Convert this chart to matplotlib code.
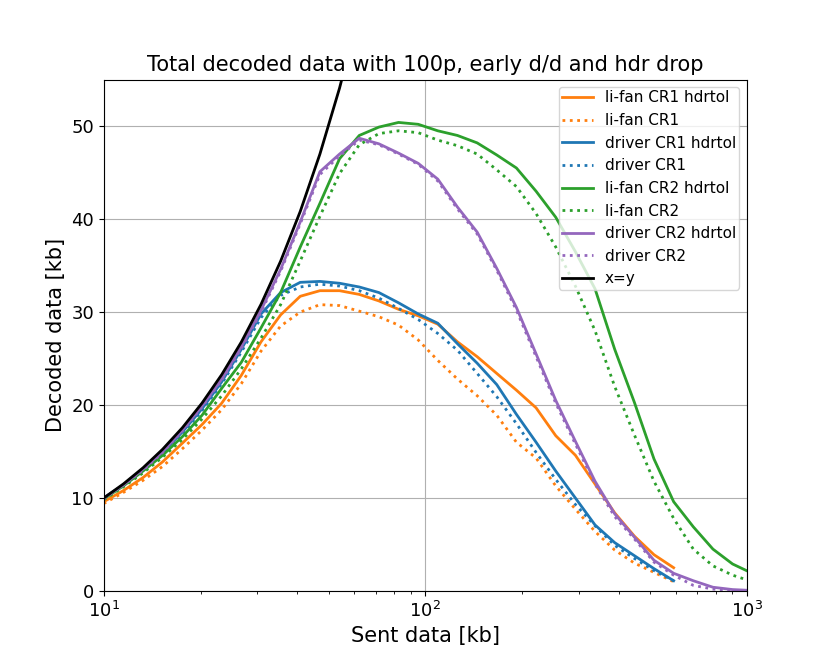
#!/bin/env python3

import matplotlib as mpl
import matplotlib.pyplot as plt

mpl.rcParams['pdf.fonttype'] = 42

figSize = (8.3, 6.64)

# sent data [kb], same sampling for all runs (CR1 runs stop at ~590 kb)
sent = [10.0, 11.51, 13.25, 15.25, 17.56, 20.21, 23.27, 26.78, 30.83, 35.48,
        40.83, 47.0, 54.1, 62.3, 71.7, 82.5, 95.0, 109.3, 125.8, 144.9,
        166.7, 191.9, 220.9, 254.3, 292.7, 336.9, 387.8, 446.4, 513.8, 591.5,
        680.8, 783.7, 902.0, 1038.0]

lifan_cr1_hdrtol = [9.6, 10.8, 12.2, 13.9, 15.9, 17.9, 20.2, 23.2, 26.8, 29.7,
                    31.7, 32.3, 32.3, 31.9, 31.2, 30.3, 29.6, 28.7, 26.8, 25.2,
                    23.4, 21.6, 19.7, 16.7, 14.6, 11.5, 8.4, 5.9, 3.9, 2.5]
lifan_cr1 = [9.4, 10.6, 11.9, 13.4, 15.3, 17.3, 19.5, 22.3, 25.8, 28.5,
             30.0, 30.8, 30.7, 30.1, 29.5, 28.6, 27.0, 24.8, 22.8, 21.0,
             18.9, 16.0, 14.3, 11.3, 8.8, 6.4, 4.4, 3.0, 2.0, 1.0]
driver_cr1_hdrtol = [10.0, 11.4, 13.0, 14.9, 17.1, 19.6, 22.5, 26.0, 29.8, 32.1,
                     33.2, 33.3, 33.1, 32.7, 32.1, 31.0, 29.8, 28.8, 26.6, 24.5,
                     22.2, 19.0, 16.0, 12.9, 10.0, 7.1, 5.2, 3.8, 2.4, 1.1]
driver_cr1 = [9.9, 11.3, 12.9, 14.8, 16.9, 19.4, 22.3, 25.7, 29.4, 31.8,
              32.7, 33.0, 32.8, 32.3, 31.5, 30.4, 29.2, 27.7, 25.9, 23.4,
              20.9, 18.0, 14.9, 12.0, 9.3, 7.0, 4.9, 3.5, 2.2, 1.1]
lifan_cr2_hdrtol = [9.9, 11.3, 12.9, 14.6, 16.6, 18.9, 21.8, 24.6, 28.3, 32.1,
                    37.0, 41.7, 46.5, 49.0, 49.9, 50.4, 50.2, 49.5, 49.0, 48.2,
                    46.9, 45.5, 43.0, 40.2, 36.5, 32.5, 26.0, 20.3, 14.2, 9.6,
                    6.9, 4.5, 2.9, 1.9]
lifan_cr2 = [9.8, 11.2, 12.7, 14.4, 16.3, 18.5, 21.0, 23.9, 27.2, 30.8,
             35.5, 40.3, 44.9, 48.0, 49.2, 49.5, 49.3, 48.5, 47.9, 47.0,
             45.3, 43.5, 40.6, 37.0, 32.8, 28.0, 22.0, 16.8, 11.8, 7.8,
             4.5, 2.7, 1.7, 1.0]
driver_cr2_hdrtol = [10.0, 11.4, 13.1, 15.0, 17.3, 19.9, 22.8, 26.3, 30.2, 34.6,
                     39.7, 45.1, 47.0, 48.7, 48.1, 47.1, 46.0, 44.3, 41.3, 38.6,
                     34.7, 30.5, 25.5, 20.5, 16.1, 11.8, 8.3, 5.8, 3.3, 1.9,
                     1.1, 0.4, 0.15, 0.05]
driver_cr2 = [9.9, 11.4, 13.0, 14.9, 17.2, 19.8, 22.7, 26.1, 30.0, 34.4,
              39.5, 44.8, 46.8, 48.5, 48.0, 47.0, 45.9, 44.1, 41.1, 38.4,
              34.5, 30.2, 25.2, 20.2, 15.8, 11.5, 8.0, 5.6, 3.1, 1.7,
              0.6, 0.2, 0.05, 0.0]

series = [
    ('li-fan CR1 hdrtol', lifan_cr1_hdrtol, 'tab:orange', '-'),
    ('li-fan CR1', lifan_cr1, 'tab:orange', ':'),
    ('driver CR1 hdrtol', driver_cr1_hdrtol, 'tab:blue', '-'),
    ('driver CR1', driver_cr1, 'tab:blue', ':'),
    ('li-fan CR2 hdrtol', lifan_cr2_hdrtol, 'tab:green', '-'),
    ('li-fan CR2', lifan_cr2, 'tab:green', ':'),
    ('driver CR2 hdrtol', driver_cr2_hdrtol, 'tab:purple', '-'),
    ('driver CR2', driver_cr2, 'tab:purple', ':'),
]


def plot_decoded(filename):
    fig, ax = plt.subplots(figsize=figSize, dpi=100)

    for label, vals, color, ls in series:
        ax.plot(sent[:len(vals)], vals, linestyle=ls, color=color, label=label, linewidth=2)
    ax.plot(sent, sent, color='black', label='x=y', linewidth=2)

    ax.set_xscale('log')
    ax.set_xlim(10, 1000)
    ax.set_ylim(0, 55)
    ax.grid(True)

    ax.set_title("Total decoded data with 100p, early d/d and hdr drop", fontsize=15)
    ax.set_xlabel("Sent data [kb]", fontsize=15)
    ax.set_ylabel("Decoded data [kb]", fontsize=15)
    ax.tick_params(labelsize=13)
    ax.legend(loc='upper right', fontsize=11, borderpad=0.2)

    plt.savefig(filename)


if __name__ == '__main__':
    plot_decoded("out.png")
